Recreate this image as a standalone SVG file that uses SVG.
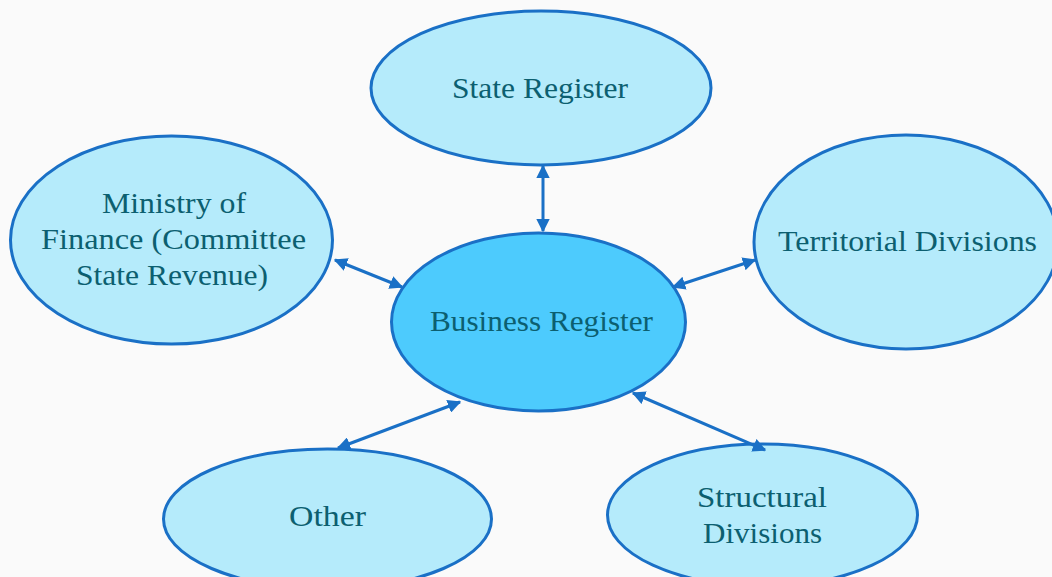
<svg xmlns="http://www.w3.org/2000/svg" width="1052" height="577" viewBox="0 0 1052 577">
<defs>
<marker id="ah" viewBox="0 0 10 10" refX="9" refY="5" markerWidth="4.5" markerHeight="4.5" orient="auto-start-reverse" markerUnits="strokeWidth">
<path d="M0,0 L10,5 L0,10 Z" fill="#1a70c6"/>
</marker>
<style>
.n{fill:#b5ebfb;stroke:#1a70c6;stroke-width:3}
.c{fill:#4dcbfd;stroke:#1a70c6;stroke-width:3}
.t{font-family:"Liberation Serif","DejaVu Serif",serif;font-size:30px;fill:#0c5f70;text-anchor:middle}
.a{stroke:#1a70c6;stroke-width:3;fill:none;marker-start:url(#ah);marker-end:url(#ah)}
</style>
</defs>
<rect width="1052" height="577" fill="#fafafa"/>
<g id="state-register">
<ellipse class="n" cx="541" cy="88" rx="170" ry="77"/>
<text class="t" x="540" y="98" textLength="176" lengthAdjust="spacingAndGlyphs">State Register</text>
</g>
<g id="ministry">
<ellipse class="n" cx="171.5" cy="240" rx="161" ry="104"/>
<text class="t" x="174" y="213" textLength="144" lengthAdjust="spacingAndGlyphs">Ministry of</text>
<text class="t" x="173.5" y="249" textLength="265" lengthAdjust="spacingAndGlyphs">Finance (Committee</text>
<text class="t" x="172" y="285" textLength="192" lengthAdjust="spacingAndGlyphs">State Revenue)</text>
</g>
<g id="territorial">
<ellipse class="n" cx="906" cy="242" rx="152" ry="107"/>
<text class="t" x="907.5" y="251" textLength="259" lengthAdjust="spacingAndGlyphs">Territorial Divisions</text>
</g>
<g id="business-register">
<ellipse class="c" cx="538.5" cy="322" rx="147" ry="89"/>
<text class="t" x="541.5" y="331" textLength="223" lengthAdjust="spacingAndGlyphs">Business Register</text>
</g>
<g id="other">
<ellipse class="n" cx="327.5" cy="519" rx="164" ry="70"/>
<text class="t" x="327.5" y="526" textLength="77" lengthAdjust="spacingAndGlyphs">Other</text>
</g>
<g id="structural">
<ellipse class="n" cx="762.5" cy="515" rx="155" ry="71"/>
<text class="t" x="762" y="507" textLength="130" lengthAdjust="spacingAndGlyphs">Structural</text>
<text class="t" x="762.5" y="543" textLength="119" lengthAdjust="spacingAndGlyphs">Divisions</text>
</g>
<g id="connectors">
<line class="a" x1="543" y1="166" x2="543" y2="231"/>
<line class="a" x1="335" y1="260" x2="402" y2="287"/>
<line class="a" x1="673" y1="287" x2="755" y2="260"/>
<line class="a" x1="460" y1="402" x2="338" y2="448"/>
<line class="a" x1="633" y1="393" x2="765" y2="450"/>
</g>
</svg>
